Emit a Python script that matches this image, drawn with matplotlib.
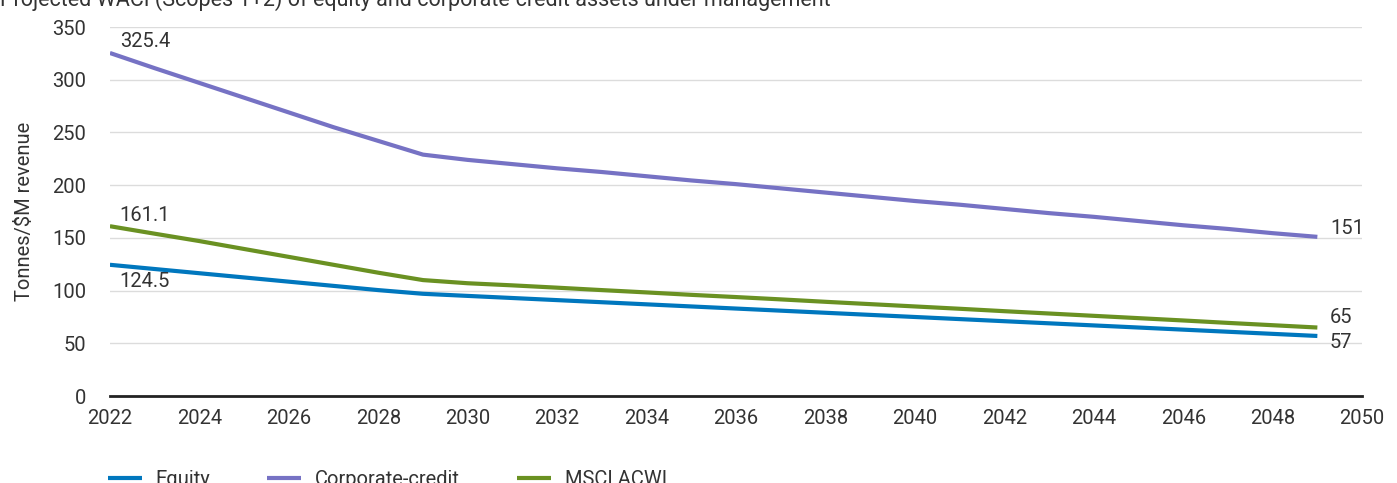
import matplotlib.pyplot as plt

plt.rcParams['font.family'] = ['Roboto', 'DejaVu Sans']

# Data
years = list(range(2022, 2050))
equity = [124.5, 120.5, 116.5, 112.5, 108.5, 104.5, 100.5, 97, 95, 93,
          91, 89, 87, 85, 83, 81, 79, 77, 75, 73,
          71, 69, 67, 65, 63, 61, 59, 57]
corporate = [325.4, 311, 297, 283, 269, 255, 242, 229, 224, 220,
             216, 212.5, 208.5, 204.5, 201, 197, 193, 189, 185, 181.5,
             177.5, 173.5, 170, 166, 162, 158.5, 154.5, 151]
msci = [161.1, 154, 147, 139.5, 132, 124.5, 117, 110, 107, 105,
        102.8, 100.5, 98.3, 96, 93.9, 91.7, 89.4, 87.2, 85, 82.8,
        80.5, 78.3, 76.1, 73.9, 71.7, 69.4, 67.2, 65]

labels = ["Equity", "Corporate-credit", "MSCI ACWI"]
colors = ["#0077be", "#7672c4", "#6a9122"]
title = "Projected WACI (Scopes 1+2) of equity and corporate-credit assets under management"
text_col = "#333333"
fs = 14.5

fig = plt.figure(figsize=(13.97, 4.83), dpi=100)
ax = fig.add_axes([0.0787, 0.18, 0.8963, 0.764])

for vals, lab, c in zip([equity, corporate, msci], labels, colors):
    ax.plot(years, vals, color=c, lw=3, label=lab, solid_capstyle='butt')

ax.set_xlim(2022, 2050)
ax.set_ylim(0, 350)
ax.set_xticks(range(2022, 2051, 2))
ax.set_yticks(range(0, 351, 50))
ax.grid(axis='y', color='#dcdcdc', lw=1)
ax.set_axisbelow(True)
for s in ['top', 'right', 'left']:
    ax.spines[s].set_visible(False)
ax.spines['bottom'].set_color('#222222')
ax.spines['bottom'].set_linewidth(2)
ax.tick_params(length=0, labelsize=fs, labelcolor=text_col)
ax.tick_params(axis='x', pad=9)
ax.tick_params(axis='y', pad=17)
ax.set_ylabel("Tonnes/$M revenue", fontsize=fs, color=text_col, labelpad=13)

# value labels
def label(x, y, txt, dx, dy):
    ax.annotate(txt, (x, y), xytext=(dx, dy), textcoords='offset points',
                fontsize=fs, color=text_col, va='center', ha='left')

label(years[0], corporate[0], f"{corporate[0]}", 7, 8)
label(years[0], msci[0], f"{msci[0]}", 7, 8)
label(years[0], equity[0], f"{equity[0]}", 7, -12)
label(years[-1], corporate[-1], f"{corporate[-1]:g}", 9, 6)
label(years[-1], msci[-1], f"{msci[-1]:g}", 9, 7)
label(years[-1], equity[-1], f"{equity[-1]:g}", 9, -5)

fig.text(0.0, 1.0, title, fontsize=15.5, color=text_col, va='center', ha='left')

fig.legend(loc='lower left', bbox_to_anchor=(0.064, -0.05), ncol=3, frameon=False,
           fontsize=fs, handlelength=1.7, handletextpad=0.7, columnspacing=2.8,
           labelcolor=text_col)

fig.savefig("out.png", dpi=100)
